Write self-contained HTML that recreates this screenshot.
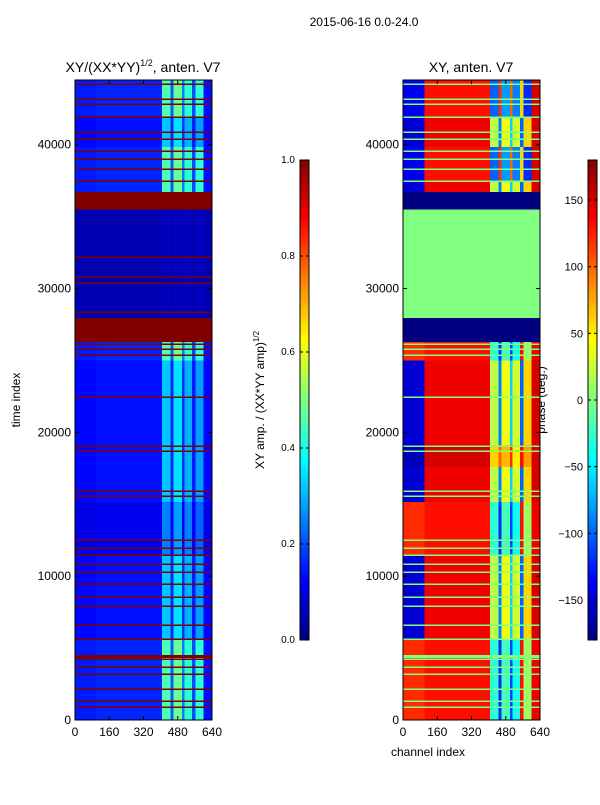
<!DOCTYPE html>
<html><head><meta charset="utf-8"><style>
body{margin:0;background:#fff;width:600px;height:800px;overflow:hidden}
svg{font-family:"Liberation Sans",sans-serif}
</style></head><body>
<svg id="fig" width="600" height="800" viewBox="0 0 600 800">
<text x="364" y="26" font-size="12" text-anchor="middle">2015-06-16 0.0-24.0</text>
<text x="143" y="72" font-size="14" text-anchor="middle">XY/(XX*YY)<tspan font-size="9" dy="-6">1/2</tspan><tspan dy="6">, anten. V7</tspan></text>
<text x="471" y="72" font-size="14" text-anchor="middle">XY, anten. V7</text>
<text transform="translate(20,400) rotate(-90)" font-size="12" text-anchor="middle">time index</text>
<text x="428" y="756" font-size="12" text-anchor="middle">channel index</text>
<text transform="translate(264,400) rotate(-90)" font-size="12" text-anchor="middle">XY amp. / (XX*YY amp)<tspan font-size="8" dy="-5">1/2</tspan></text>
<text transform="translate(545,400) rotate(-90)" font-size="12" text-anchor="middle">phase (deg.)</text>
<g id="left"></g>
<g id="right"></g>
<g id="axes"></g>
</svg>
<script>
const chanEdges=[0,100,406,445,460,499,511,547,562,601,640];
const ampProfiles=[
[0.13,0.14,0.32,0.16,0.35,0.17,0.3,0.15,0.28,0.13],
[0.15,0.16,0.45,0.22,0.48,0.25,0.42,0.2,0.42,0.14],
[0.05,0.05,0.06,0.05,0.06,0.05,0.06,0.05,0.06,0.05],
[1,1,1,1,1,1,1,1,1,1],
[0.1,0.11,0.25,0.12,0.28,0.12,0.25,0.12,0.22,0.1]];
const phaseProfiles=[
[-150,140,20,-90,40,-60,30,-100,60,150],
[-160,150,60,100,70,120,50,130,80,150],
[0,0,0,0,0,0,0,0,0,0],
[-180,-180,-180,-180,-180,-180,-180,-180,-180,-180],
[120,130,-30,-120,-20,-110,-40,130,10,140],
[150,150,90,160,70,150,80,160,120,150],
[-140,130,-100,120,-80,100,-90,60,-120,150]];
const bandStart=[41850,39850,37410,36700,35500,27940,26270,25000,19120,17600,15150,11400,5560,0];
const bandEnd  =[44500,41850,39850,37410,36700,35500,27940,26270,25000,19120,17600,15150,11400,5560];
const bandAmp  =[1,0,1,1,3,2,3,1,0,0,0,4,0,1];
const bandPhase=[6,0,6,0,3,2,3,4,0,1,0,4,0,4];
const flagTimes=[44150,43110,42760,41850,40810,40330,39500,38940,38240,37410,32120,30730,30310,28300,26070,25730,25310,22390,18980,18630,15850,15500,12450,11890,11400,10780,10220,9390,8480,7860,6540,5560,4170,4300,4420,3620,3130,2090,1250,830];
const flagWidth=[100];
const timeTicks=[0,10000,20000,30000,40000];
const chanTicks=[0,160,320,480,640];
const ampTicks=[0,0.2,0.4,0.6,0.8,1.0];
const ampTickLabels=["0.0","0.2","0.4","0.6","0.8","1.0"];
const phaseTicks=[-150,-100,-50,0,50,100,150];

const NS="http://www.w3.org/2000/svg";
const T0=0,T1=44500,PT=80,PB=720;
const yS=t=>PB-(t-T0)/(T1-T0)*(PB-PT);
const xL=c=>75+c/640*137, xR=c=>403+c/640*137;
function jet(v){v=Math.max(0,Math.min(1,v));
 const r=Math.max(0,Math.min(1,1.5-Math.abs(4*v-3))),g=Math.max(0,Math.min(1,1.5-Math.abs(4*v-2))),b=Math.max(0,Math.min(1,1.5-Math.abs(4*v-1)));
 return `rgb(${Math.round(r*255)},${Math.round(g*255)},${Math.round(b*255)})`;}
const pN=p=>(p+180)/360;
function rect(g,x,y,w,h,fill,name){const r=document.createElementNS(NS,'rect');
 r.setAttribute('x',x);r.setAttribute('y',y);r.setAttribute('width',w);r.setAttribute('height',h);r.setAttribute('fill',fill);r.setAttribute('shape-rendering','crispEdges');
 
 
 g.appendChild(r);return r;}
function line(g,x1,y1,x2,y2,name){const l=document.createElementNS(NS,'line');
 l.setAttribute('x1',x1);l.setAttribute('y1',y1);l.setAttribute('x2',x2);l.setAttribute('y2',y2);l.setAttribute('stroke','#000');l.setAttribute('stroke-width',1);
 
 
 g.appendChild(l);}
function text(g,x,y,s,anchor,size,name){const t=document.createElementNS(NS,'text');
 t.setAttribute('x',x);t.setAttribute('y',y);t.setAttribute('text-anchor',anchor);t.setAttribute('font-size',size);t.textContent=s;
 
 
 g.appendChild(t);}
const L=document.getElementById('left'),R=document.getElementById('right'),A=document.getElementById('axes');
for(let b=0;b<bandStart.length;b++){
 const y1=yS(bandEnd[b]),y2=yS(bandStart[b]);
 for(let c=0;c<chanEdges.length-1;c++){
  rect(L,xL(chanEdges[c]),y1,xL(chanEdges[c+1])-xL(chanEdges[c]),y2-y1,jet(ampProfiles[bandAmp[b]][c]),'amp-cell');
  rect(R,xR(chanEdges[c]),y1,xR(chanEdges[c+1])-xR(chanEdges[c]),y2-y1,jet(pN(phaseProfiles[bandPhase[b]][c])),'phase-cell');
 }}
flagTimes.forEach(t=>{const y1=yS(t+flagWidth[0]),y2=yS(t);
 rect(L,xL(0),y1,xL(640)-xL(0),Math.max(1,y2-y1),jet(1),'amp-flag-line');
 rect(R,xR(0),y1,xR(640)-xR(0),Math.max(1,y2-y1),jet(pN(0)),'phase-flag-line');});
[[xL,'left'],[xR,'right']].forEach(([xf,n])=>{
 const f=rect(A,xf(0),PT,xf(640)-xf(0),PB-PT,'none',n+'-plot-frame');f.setAttribute('stroke','#000');
 timeTicks.forEach(t=>{line(A,xf(0),yS(t),xf(0)+4,yS(t),n+'-y-tick');line(A,xf(640)-4,yS(t),xf(640),yS(t),n+'-y-tick');
  text(A,xf(0)-4,yS(t)+4,String(t),'end',12,n+'-y-tick-label');});
 chanTicks.forEach(c=>{line(A,xf(c),PB,xf(c),PB-4,n+'-x-tick');line(A,xf(c),PT,xf(c),PT+4,n+'-x-tick');
  text(A,xf(c),PB+16,String(c),'middle',12,n+'-x-tick-label');});
});
const defs=document.createElementNS(NS,'defs');A.appendChild(defs);
const gr=document.createElementNS(NS,'linearGradient');gr.setAttribute('id','jetg');gr.setAttribute('x1',0);gr.setAttribute('y1',1);gr.setAttribute('x2',0);gr.setAttribute('y2',0);
for(let i=0;i<=16;i++){const s=document.createElementNS(NS,'stop');s.setAttribute('offset',i/16);s.setAttribute('stop-color',jet(i/16));gr.appendChild(s);}
defs.appendChild(gr);
const cbT=160,cbB=640;
const cb1=rect(A,300,cbT,9,cbB-cbT,'url(#jetg)','amp-colorbar');cb1.setAttribute('stroke','#000');
ampTicks.forEach((v,i)=>{const y=cbB-v*(cbB-cbT);line(A,300,y,303,y,'amp-cb-tick');line(A,306,y,309,y,'amp-cb-tick');text(A,295,y+3,ampTickLabels[i],'end',10,'amp-cb-tick-label');});
const cb2=rect(A,588,cbT,9,cbB-cbT,'url(#jetg)','phase-colorbar');cb2.setAttribute('stroke','#000');
phaseTicks.forEach(v=>{const y=cbB-pN(v)*(cbB-cbT);line(A,588,y,591,y,'phase-cb-tick');line(A,594,y,597,y,'phase-cb-tick');text(A,583,y+4,v<0?'\u2212'+(-v):String(v),'end',11,'phase-cb-tick-label');});
</script>
</body></html>
